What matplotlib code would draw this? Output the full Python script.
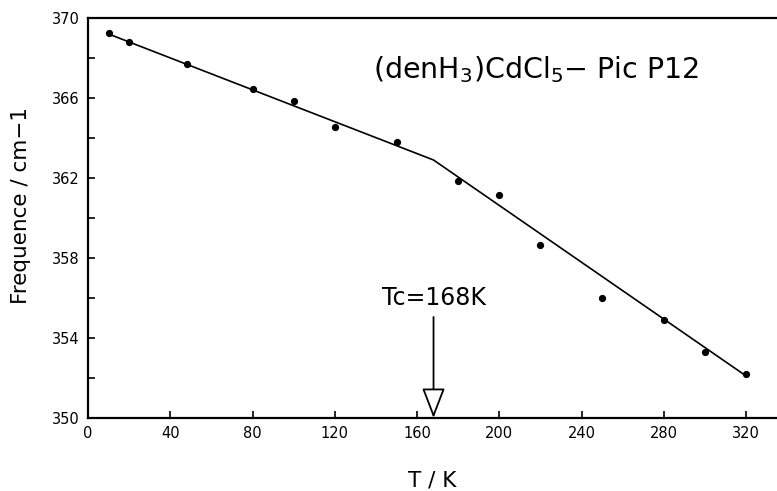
import matplotlib
matplotlib.use("Agg")
import matplotlib.pyplot as plt

# measured points (T in K, frequency in cm-1)
temps = [10, 20, 48, 80, 100, 120, 150, 180, 200, 220, 250, 280, 300, 320]
freqs = [369.25, 368.8, 367.7, 366.45, 365.85, 364.55, 363.8,
         361.85, 361.15, 358.65, 356.0, 354.9, 353.3, 352.2]

# two-segment fit with kink at Tc
fit_t = [10, 168, 320]
fit_f = [369.2, 362.9, 352.1]

tc = 168
title_txt = r"(denH$_3$)CdCl$_5$$-$ Pic P12"

fig = plt.figure(figsize=(7.77, 4.91), dpi=100)
ax = fig.add_axes([88 / 777, 73 / 491, 689 / 777, 400 / 491])

ax.plot(fit_t, fit_f, color="black", linewidth=1.2)
ax.plot(temps, freqs, "o", color="black", markersize=4.2)

ax.set_xlim(0, 335)
ax.set_ylim(350, 370)
ax.set_xticks(range(0, 321, 40))
ax.set_yticks(range(350, 371, 4))
ax.set_yticks(range(352, 370, 4), minor=True)
ax.tick_params(direction="in", length=5, width=1.2, labelsize=10.5, pad=6)
ax.tick_params(which="minor", direction="in", length=5, width=1.2)

for side in ["left", "bottom", "top"]:
    ax.spines[side].set_linewidth(1.6)
ax.spines["right"].set_visible(False)

ax.set_ylabel("Frequence / cm\u22121", fontsize=15.5)
ax.set_xlabel("T / K", fontsize=15.5)
ax.yaxis.set_label_coords(-0.083, 0.53)
ax.xaxis.set_label_coords(0.499, -0.13)

ax.text(218, 367.4, title_txt, fontsize=20.5, ha="center", va="center")

# transition temperature marker
ax.annotate("", xy=(tc, 350), xytext=(tc, 355.05),
            arrowprops=dict(arrowstyle="-|>,head_length=1.25,head_width=0.48",
                            mutation_scale=15, fc="white", ec="black",
                            lw=1.3, shrinkA=0, shrinkB=0))
ax.text(tc, 356.0, "Tc=%dK" % tc, fontsize=17, ha="center", va="center")

fig.savefig("out.png", dpi=100)
